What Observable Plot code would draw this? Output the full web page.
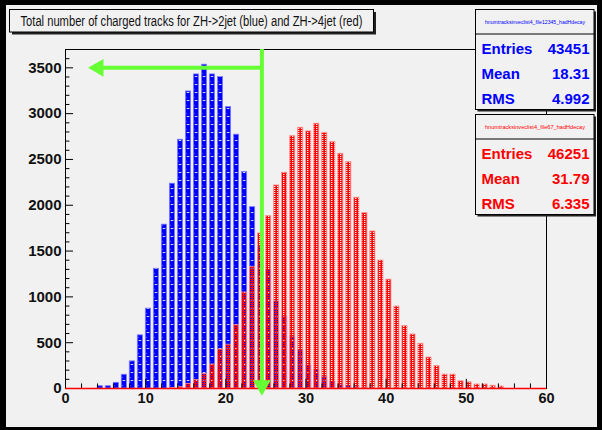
<!DOCTYPE html>
<html>
<head>
<meta charset="utf-8">
<script src="https://cdn.jsdelivr.net/npm/d3@7"></script>
<script src="https://cdn.jsdelivr.net/npm/@observablehq/plot@0.6"></script>
<style>
  body { margin: 0; background: #000; }
  #chart svg { display: block; }
</style>
</head>
<body>
<div id="chart"></div>
<script>
// Number of charged tracks per event, ZH -> 2 jets (blue histogram)
const bins2jet = [4, 5, 6, 7, 8, 9, 10, 11, 12, 13, 14, 15, 16, 17, 18, 19, 20, 21, 22, 23,
                  24, 25, 26, 27, 28, 29, 30, 31, 32, 33, 34, 35, 36, 37];
const counts2jet = [25, 25, 62, 150, 296, 580, 872, 1307, 1788, 2235, 2715, 3242, 3428, 3534, 3428, 3399, 3071, 2770, 2362, 1979,
                    1550, 1290, 950, 780, 560, 415, 250, 200, 124, 69, 35, 25, 15, 10];

// Number of charged tracks per event, ZH -> 4 jets (red histogram)
const bins4jet = [13, 14, 15, 16, 17, 18, 19, 20, 21, 22, 23, 24, 25, 26, 27, 28, 29, 30, 31, 32, 33,
                  34, 35, 36, 37, 38, 39, 40, 41, 42, 43, 44, 45, 46, 47, 48, 49, 50, 51, 52, 53, 54];
const counts4jet = [6, 15, 50, 92, 157, 262, 426, 478, 690, 1048, 1328, 1692, 1881, 2216, 2355, 2754, 2846, 2806, 2890, 2791, 2689,
                    2562, 2471, 2082, 1914, 1714, 1397, 1188, 895, 682, 590, 488, 338, 245, 152, 152, 78, 67, 44, 44, 30, 22];

// Axis ticks
const xTicks = [0, 10, 20, 30, 40, 50, 60];
const yTicks = [0, 500, 1000, 1500, 2000, 2500, 3000, 3500];

// Cut marker (green arrows)
const cutTracks = 24.5;
const cutLevel = 3500;
const cutArrowEnd = 4.1;

// Texts
const titleText = "Total number of charged tracks for ZH->2jet (blue) and ZH->4jet (red)";
const statNames = ["Entries", "Mean", "RMS"];
const histName2jet = "hnumtracksinveclist4_file12345_hadHdecay";
const histName4jet = "hnumtracksinveclist4_file67_hadHdecay";
const stats2jet = ["43451", "18.31", "4.992"];
const stats4jet = ["46251", "31.79", "6.335"];

const W = 602, H = 430;
const yTop = 3700;
const green = "#66ff33";
const font = "'Liberation Sans', Arial, sans-serif";

const hist2 = bins2jet.map((b, i) => ({bin: b, count: counts2jet[i]}));
const hist4 = bins4jet.map((b, i) => ({bin: b, count: counts4jet[i]}));
const xMinor = d3.range(0, 61, 2).filter(v => v % 10 !== 0);
const yMinor = d3.range(0, yTop + 1, 100).filter(v => v % 500 !== 0);

const barFrom = d => d.bin + 0.02;
const barTo = d => d.bin + 0.66;

const chart = Plot.plot({
  width: W,
  height: H,
  marginLeft: 65,
  marginRight: 56,
  marginTop: 49,
  marginBottom: 42,
  style: {background: "#000", fontFamily: font},
  x: {domain: [0, 60], label: null},
  y: {domain: [0, yTop], label: null},
  marks: [
    Plot.rect(hist2, {x1: barFrom, x2: barTo, y1: 0, y2: "count", fill: "url(#fill2jet)", stroke: "#7a7aff", strokeWidth: 0.8}),
    Plot.rect(hist4, {x1: barFrom, x2: barTo, y1: 0, y2: "count", fill: "url(#fill4jet)", stroke: "#ff9090", strokeWidth: 0.8}),
    // inward ticks
    Plot.ruleY(yTicks, {x1: 0, x2: 1.0, stroke: "#000"}),
    Plot.ruleY(yMinor, {x1: 0, x2: 0.55, stroke: "#000"}),
    Plot.ruleX(xTicks, {y1: 0, y2: 100, stroke: "#000"}),
    Plot.ruleX(xMinor, {y1: 0, y2: 50, stroke: "#000"}),
    Plot.axisY(yTicks, {tickSize: 0, tickPadding: 4, fontSize: 15, fontWeight: "bold", fill: "#111", label: null, tickFormat: d => String(d)}),
    Plot.axisX(xTicks, {tickSize: 0, tickPadding: 4, fontSize: 14.5, fontWeight: "bold", fill: "#111", label: null, tickFormat: d => String(d)}),
    Plot.frame({stroke: "#000"}),
    Plot.ruleY([0], {stroke: "#ff0000", strokeWidth: 1.5}),
    // cut arrows
    Plot.ruleY([cutLevel], {x1: cutArrowEnd, x2: cutTracks, stroke: green, strokeWidth: 4}),
    Plot.dot([cutLevel], {x: cutArrowEnd, y: d => d, symbol: "triangle", r: 6.6, rotate: -90, fill: green, stroke: "none"}),
    Plot.ruleX([cutTracks], {y1: 33, y2: yTop, stroke: green, strokeWidth: 4}),
    Plot.dot([cutTracks], {x: d => d, y: 33, symbol: "triangle", r: 6.6, rotate: 180, fill: green, stroke: "none"})
  ]
});

document.getElementById("chart").appendChild(chart);

const svg = d3.select(chart);

// grey canvas inside the black border
svg.insert("rect", ":first-child")
  .attr("x", 6).attr("y", 5).attr("width", 591).attr("height", 422)
  .attr("fill", "#f1f1f1");

// fill patterns for the two histograms
const defs = svg.insert("defs", ":first-child");
const p2 = defs.append("pattern").attr("id", "fill2jet")
  .attr("patternUnits", "userSpaceOnUse").attr("x", 65).attr("y", 0)
  .attr("width", 8.02).attr("height", 8);
p2.append("rect").attr("width", 8.02).attr("height", 8).attr("fill", "#0000ff");
p2.append("rect").attr("x", 1.5).attr("y", 4).attr("width", 2.5).attr("height", 1).attr("fill", "#ffffff").attr("opacity", 0.85);
p2.append("rect").attr("x", 1).attr("y", 1).attr("width", 0.8).attr("height", 0.8).attr("fill", "#ffffff").attr("opacity", 0.5);

// red fill with see-through holes (2 of 6 cells open)
const p4 = defs.append("pattern").attr("id", "fill4jet")
  .attr("patternUnits", "userSpaceOnUse").attr("x", 0).attr("y", 0)
  .attr("width", 3).attr("height", 2);
p4.append("rect").attr("x", 0).attr("y", 0).attr("width", 1).attr("height", 2).attr("fill", "#ff0000");
p4.append("rect").attr("x", 1).attr("y", 1).attr("width", 2).attr("height", 1).attr("fill", "#ff0000");
p4.append("rect").attr("x", 2).attr("y", 0).attr("width", 1).attr("height", 1).attr("fill", "#ff0000").attr("opacity", 0.6);

// boxes drawn on top
const overlay = svg.append("g").attr("font-family", font).attr("text-anchor", "start");

function pave(x, y, w, h, shadow) {
  overlay.append("rect").attr("x", x + shadow).attr("y", y + shadow).attr("width", w).attr("height", h).attr("fill", "#222");
  overlay.append("rect").attr("x", x).attr("y", y).attr("width", w).attr("height", h)
    .attr("fill", "#f1f1f1").attr("stroke", "#000").attr("stroke-width", 1);
}

// title
pave(9.5, 9.5, 364, 22.5, 2.5);
overlay.append("text").attr("x", 191.5).attr("y", 25.5).attr("text-anchor", "middle")
  .attr("font-size", 14).attr("fill", "#111")
  .attr("textLength", 342).attr("lengthAdjust", "spacingAndGlyphs")
  .text(titleText);

// statistics boxes
function statsBox(y0, name, values, color) {
  pave(475.5, y0, 118.5, 100, 2);
  overlay.append("line").attr("x1", 475.5).attr("x2", 594).attr("y1", y0 + 24.5).attr("y2", y0 + 24.5).attr("stroke", "#000");
  overlay.append("text").attr("x", 535).attr("y", y0 + 14.5).attr("text-anchor", "middle")
    .attr("font-size", 5.5).attr("fill", color)
    .attr("textLength", name.length > 40 ? 109 : 100).attr("lengthAdjust", "spacingAndGlyphs")
    .text(name);
  statNames.forEach((s, i) => {
    const yb = y0 + 44.5 + i * 25.2;
    overlay.append("text").attr("x", 481.5).attr("y", yb).attr("text-anchor", "start")
      .attr("font-size", 15).attr("font-weight", "bold").attr("fill", color).text(s);
    overlay.append("text").attr("x", 589.5).attr("y", yb).attr("text-anchor", "end")
      .attr("font-size", 15).attr("font-weight", "bold").attr("fill", color).text(values[i]);
  });
}
statsBox(9.5, histName2jet, stats2jet, "#0000ff");
statsBox(114.5, histName4jet, stats4jet, "#ff0000");
</script>
</body>
</html>
